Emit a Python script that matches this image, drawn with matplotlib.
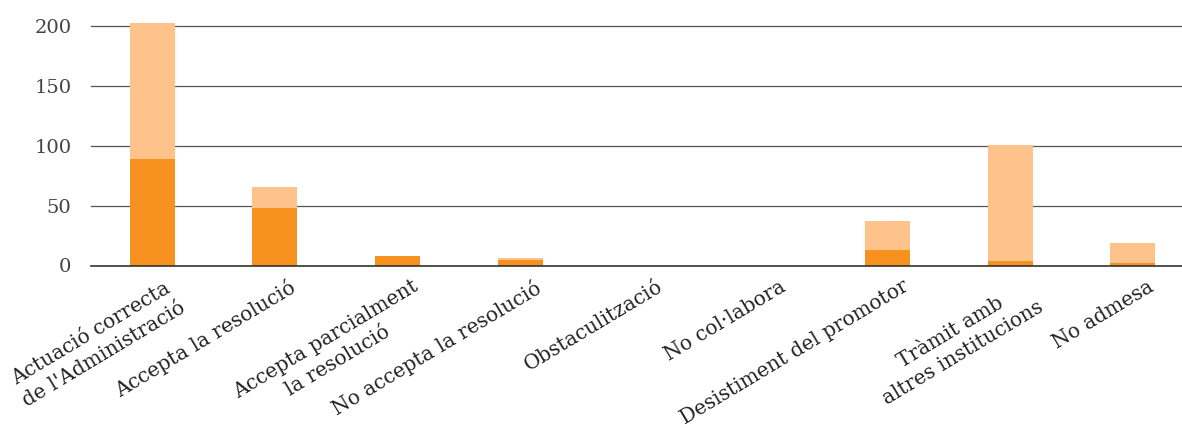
import matplotlib.pyplot as plt
import matplotlib.transforms as mtransforms
import numpy as np

# data
categories = [
    "Actuació correcta\nde l'Administració",
    "Accepta la resolució",
    "Accepta parcialment\nla resolució",
    "No accepta la resolució",
    "Obstaculització",
    "No col·labora",
    "Desistiment del promotor",
    "Tràmit amb\naltres institucions",
    "No admesa",
]
dark_vals = [89, 48, 8, 5, 0, 0, 13, 4, 2]
light_vals = [114, 18, 0, 1, 0, 0, 24, 97, 17]
yticks = [0, 50, 100, 150, 200]

dark_color = "#F6901E"
light_color = "#FDC38A"

plt.rcParams["font.family"] = ["DejaVu Serif"]

fig = plt.figure(figsize=(11.82, 4.28), dpi=100)
ax = fig.add_axes([91 / 1182, 1 - 265.5 / 428, 1 - 91 / 1182, 265.5 / 428])

x = np.arange(len(categories))
ax.bar(x, dark_vals, width=0.367, color=dark_color, zorder=3)
ax.bar(x, light_vals, width=0.367, bottom=dark_vals, color=light_color, zorder=3)

ax.set_xlim(-0.5, 8.4)
ax.set_ylim(0, 222)
ax.set_yticks(yticks)
for t in yticks:
    ax.axhline(t, color="#333333" if t == 0 else "#555555", lw=1.2 if t == 0 else 0.9,
               zorder=4 if t == 0 else 1, clip_on=False)

for s in ax.spines.values():
    s.set_visible(False)
ax.tick_params(axis="y", length=0, pad=14, labelsize=14, labelcolor="#444444")
ax.tick_params(axis="x", length=0, pad=4)

ax.set_xticks(x)
ax.set_xticklabels(categories, rotation=31, ha="right", rotation_mode="anchor",
                   fontsize=14.5, color="#222222", multialignment="center",
                   linespacing=1.35)
offset = mtransforms.ScaledTranslation(14 / 100, -6 / 100, fig.dpi_scale_trans)
for lbl in ax.get_xticklabels():
    lbl.set_transform(lbl.get_transform() + offset)

fig.savefig("out.png", dpi=100)
